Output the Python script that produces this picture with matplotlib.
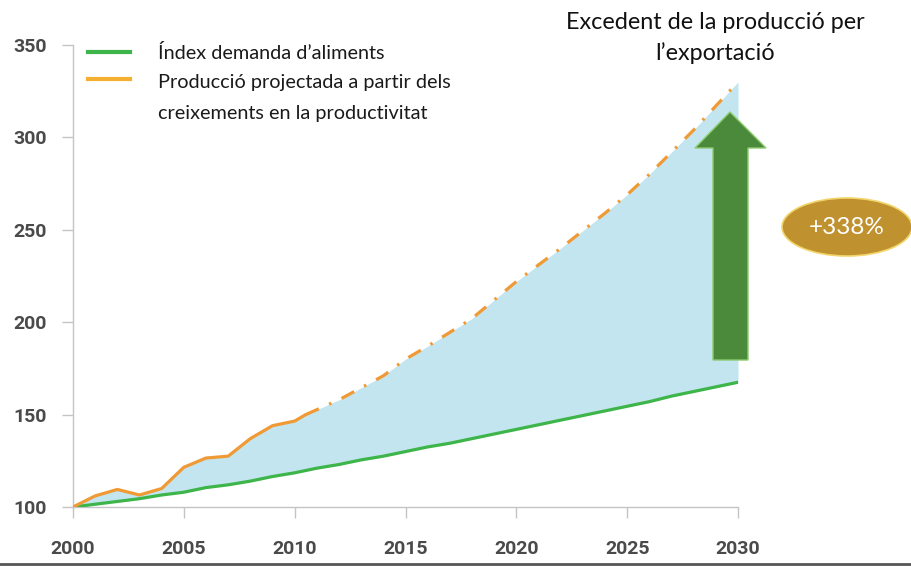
import numpy as np
import matplotlib
matplotlib.use("Agg")
import matplotlib.pyplot as plt
from matplotlib.patches import Polygon, Ellipse
from matplotlib.lines import Line2D

# ---- data ----
demand_years = list(range(2000, 2031))
demand_vals = [100, 101.5, 103, 104.5, 106.5, 108, 110.5, 112, 114, 116.5, 118.5,
               121, 123, 125.5, 127.5, 130, 132.5, 134.5, 137, 139.5, 142,
               144.5, 147, 149.5, 152, 154.5, 157, 160, 162.5, 165, 167.5]

prod_hist_years = [2000, 2001, 2002, 2003, 2004, 2005, 2006, 2007, 2008, 2009, 2010, 2010.5]
prod_hist_vals = [100, 106, 109.5, 106.5, 110, 121.5, 126.5, 127.5, 137, 144, 146.5, 150]

prod_proj_years = [2010.5, 2012, 2014, 2015, 2016, 2018, 2020, 2022, 2024, 2025, 2026, 2028, 2030]
prod_proj_vals = [150, 158, 171, 180, 187, 202, 222, 240, 259, 269, 280, 304, 330]

legend_labels = ["Índex demanda d’aliments",
                 "Producció projectada a partir dels\ncreixements en la productivitat"]
title_text = "Excedent de la producció per\nl’exportació"
badge_text = "+338%"
x_ticks = [2000, 2005, 2010, 2015, 2020, 2025, 2030]
y_ticks = [100, 150, 200, 250, 300, 350]

# ---- styles ----
W, H = 911, 566
GREEN = "#3DB54A"
ORANGE = "#F09A35"
FILL = "#C3E5EF"
TICKC = "#4a4a4a"

fig = plt.figure(figsize=(W / 100, H / 100), dpi=100)
fig.patch.set_facecolor("white")

def fx(px):
    return px / W

def fy(py):
    return 1 - py / H

ax = fig.add_axes([fx(73), fy(507), fx(738) - fx(73), fy(45) - fy(507)])
ax.set_xlim(2000, 2030)
ax.set_ylim(100, 350)

# fill between demand and production
prod_x = np.array(prod_hist_years[:-1] + prod_proj_years)
prod_y = np.array(prod_hist_vals[:-1] + prod_proj_vals)
dem_on_prod = np.interp(prod_x, demand_years, demand_vals)
ax.fill_between(prod_x, dem_on_prod, prod_y, color=FILL, lw=0, zorder=1)

ax.plot(demand_years, demand_vals, color=GREEN, lw=2.3, zorder=3, solid_capstyle="round")
ax.plot(prod_hist_years, prod_hist_vals, color=ORANGE, lw=2.3, zorder=3,
        solid_joinstyle="round", solid_capstyle="round")
ax.plot(prod_proj_years, prod_proj_vals, color=ORANGE, lw=2.3, zorder=3,
        dashes=(4.5, 3.5, 0.8, 3.5), dash_capstyle="butt")

for s in ["top", "right"]:
    ax.spines[s].set_visible(False)
for s in ["left", "bottom"]:
    ax.spines[s].set_color("#c4c4c4")
    ax.spines[s].set_linewidth(1)

ax.set_xticks(x_ticks)
ax.set_yticks(y_ticks)
ax.set_xticklabels([str(t) for t in x_ticks])
ax.set_yticklabels([str(t) for t in y_ticks])
ax.tick_params(axis="x", length=8, width=1, color="#c4c4c4", pad=16,
               labelsize=14, labelcolor=TICKC)
ax.tick_params(axis="y", length=8, width=1, color="#c4c4c4", pad=11,
               labelsize=14, labelcolor=TICKC)
for lab in ax.get_xticklabels() + ax.get_yticklabels():
    lab.set_fontfamily("Roboto")
    lab.set_fontweight("bold")
ax.set_facecolor("none")

# legend (manual, handle aligned with first text line)
leg_rows = [(52, 44, GREEN, legend_labels[0]), (79, 74, "#F5B031", legend_labels[1])]
for py, ty, col, lab in leg_rows:
    fig.add_artist(Line2D([fx(88), fx(130)], [fy(py), fy(py)], color=col, lw=3,
                          transform=fig.transFigure))
    fig.text(fx(158), fy(ty), lab, ha="left", va="top",
             fontsize=14.3, family="Lato", color="#1a1a1a", linespacing=2.0)

# title
fig.text(fx(715), fy(12), title_text, ha="center", va="top", fontsize=16.8,
         family="Lato", color="#111111", linespacing=1.5)

# arrow
arrow_px = [(713, 360), (748, 360), (748, 148), (766, 148), (730, 112),
            (695, 148), (713, 148)]
arrow = Polygon([(fx(x), fy(y)) for x, y in arrow_px], closed=True,
                transform=fig.transFigure, facecolor="#4B8A3B",
                edgecolor="#8CCB6E", lw=1, zorder=5)
fig.add_artist(arrow)

# badge
badge = Ellipse((fx(847), fy(227)), fx(130), 58 / H, transform=fig.transFigure,
                facecolor="#C0912F", edgecolor="#F2D56A", lw=1.2, zorder=5)
fig.add_artist(badge)
fig.text(fx(847), fy(228), badge_text, ha="center", va="center", fontsize=17.5,
         family="Lato", color="white", zorder=6)

# bottom rule
fig.add_artist(Line2D([0, 1], [fy(564), fy(564)], color="#555555", lw=2,
                      transform=fig.transFigure))

fig.savefig("out.png", dpi=100)
